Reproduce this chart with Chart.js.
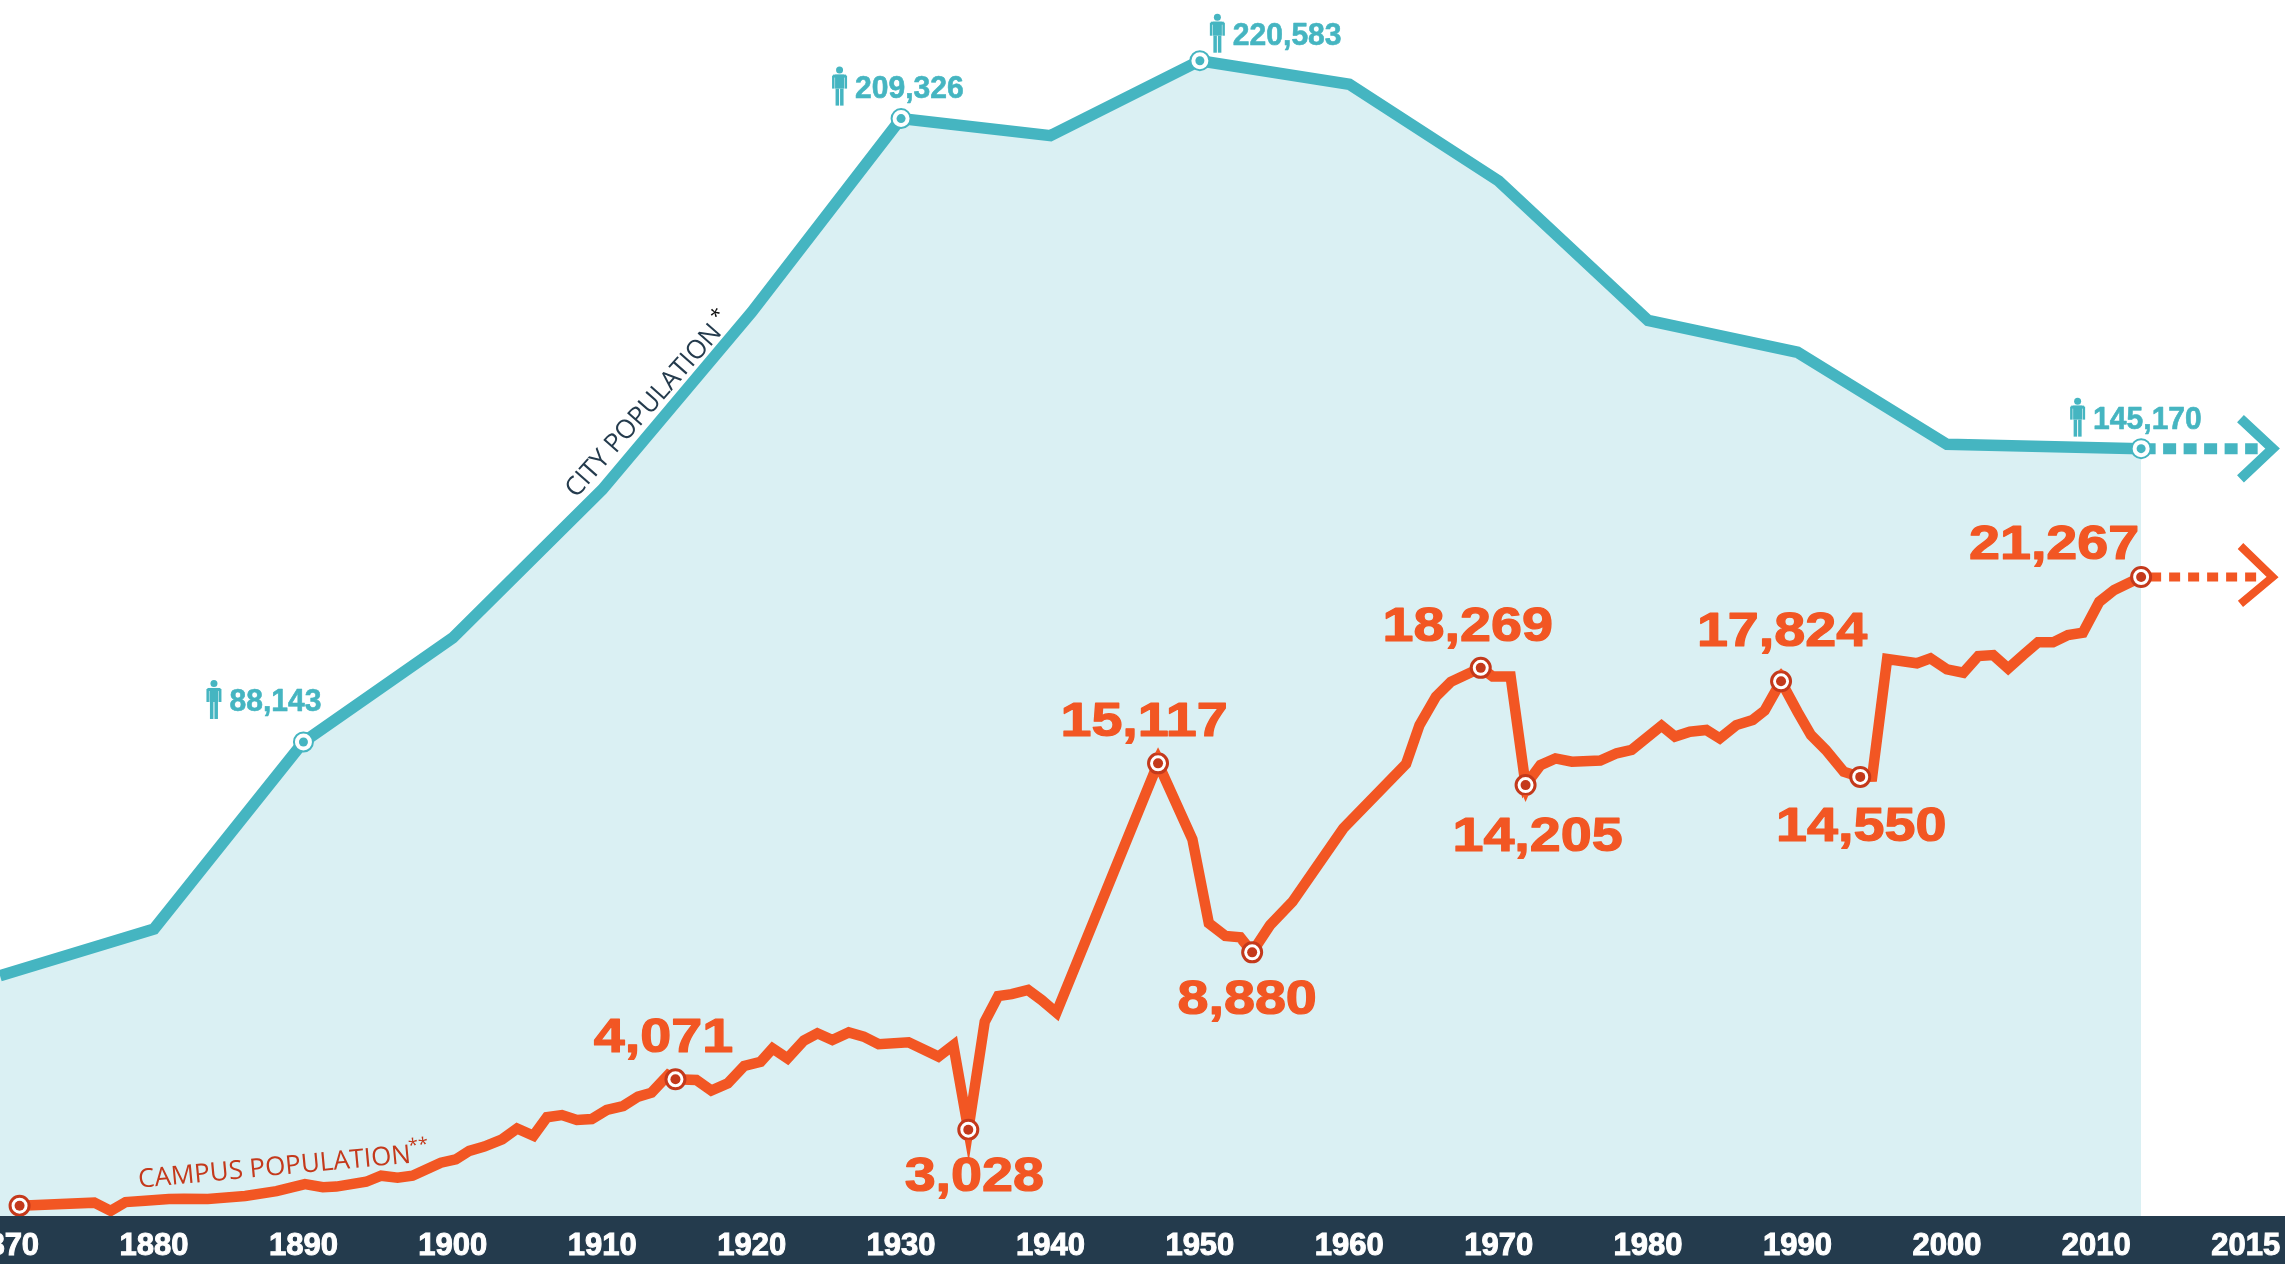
<!DOCTYPE html>
<html>
<head>
<meta charset="utf-8">
<title>City and campus population</title>
<style>
    html, body { margin: 0; padding: 0; background: #fff; overflow: hidden; }
    canvas { display: block; }
</style>
<script src="https://cdn.jsdelivr.net/npm/chart.js@4/dist/chart.umd.min.js"></script>
</head>
<body>
<canvas id="chartPop" width="2285" height="1264"></canvas>
<script>
'use strict';

// axis: the last slot sits one full decade after 2010 but is printed 2015
const tickSlots = [1870, 1880, 1890, 1900, 1910, 1920, 1930, 1940, 1950, 1960, 1970, 1980, 1990, 2000, 2010, 2020];
const tickLabels = ['1870', '1880', '1890', '1900', '1910', '1920', '1930', '1940', '1950', '1960', '1970', '1980', '1990', '2000', '2010', '2015'];

const cityYears = [1869.69, 1880, 1890, 1900, 1910, 1920, 1930, 1940, 1950, 1960, 1970, 1980, 1990, 2000, 2013];
const cityValues = [42700, 51800, 88143, 108400, 137200, 171700, 209326, 206000, 220583, 216000, 197200, 170100, 163900, 146000, 145170];

const cityMarkYears = [1890, 1930, 1950, 2013];
const cityMarkValues = [88143, 209326, 220583, 145170];
const cityMarkLabels = ['88,143', '209,326', '220,583', '145,170'];

const campusYears = [
    1871, 1876, 1877.1, 1878.1, 1879.4, 1881, 1882, 1883.6, 1886.1, 1888.2,
    1890.1, 1891.3, 1892.2, 1894.2, 1895.2, 1896.3, 1897.3, 1899.2, 1900.2, 1901.1,
    1902.1, 1903.3, 1904.3, 1905.4, 1906.3, 1907.3, 1908.3, 1909.3, 1910.3, 1911.4,
    1912.4, 1913.3, 1914.4, 1914.9, 1916.3, 1917.3, 1918.4, 1919.5, 1920.6, 1921.4,
    1922.4, 1923.5, 1924.4, 1925.4, 1926.5, 1927.5, 1928.5, 1930.5, 1932.5, 1933.5,
    1934.5, 1935.6, 1936.5, 1937.4, 1938.5, 1939.4, 1940.4, 1947.2, 1949.5, 1950.6,
    1951.7, 1952.7, 1953.5, 1954.7, 1956.2, 1959.6, 1963.8, 1964.7, 1965.8, 1966.8,
    1968.8, 1969.6, 1970.8, 1971.8, 1972.8, 1973.8, 1974.9, 1976.8, 1977.9, 1978.9,
    1980.9, 1981.8, 1982.8, 1983.9, 1984.8, 1985.9, 1987, 1987.8, 1988.9, 1990,
    1990.9, 1991.9, 1993.1, 1994.2, 1995, 1996, 1998, 1998.9, 2000, 2001.1,
    2002.1, 2003.1, 2004.1, 2005.1, 2006.1, 2007.1, 2008.1, 2009.1, 2010.2, 2011.2,
    2013
];
const campusValues = [
    520, 620, 350, 640, 680, 740, 750, 740, 840, 1000,
    1230, 1130, 1150, 1310, 1510, 1440, 1510, 1940, 2050, 2330,
    2470, 2710, 3070, 2830, 3440, 3510, 3350, 3380, 3680, 3810,
    4120, 4250, 4830, 4690, 4670, 4320, 4560, 5130, 5270, 5710,
    5380, 5970, 6210, 5990, 6240, 6100, 5850, 5910, 5440, 5820,
    3028, 6590, 7440, 7500, 7640, 7310, 6890, 15117, 12610, 9840,
    9420, 9380, 8880, 9780, 10550, 12970, 15100, 16380, 17320, 17810,
    18269, 17980, 17980, 14400, 15060, 15280, 15170, 15210, 15450, 15560,
    16360, 16000, 16160, 16220, 15940, 16380, 16550, 16860, 17824, 16820,
    16050, 15560, 14840, 14670, 14680, 18560, 18420, 18580, 18220, 18110,
    18660, 18690, 18250, 18690, 19110, 19110, 19350, 19430, 20450, 20840,
    21267
];

const campusMarkYears = [1871, 1914.9, 1934.5, 1947.2, 1953.5, 1968.8, 1971.8, 1988.9, 1994.2, 2013];
const campusMarkValues = [520, 4690, 3028, 15117, 8880, 18269, 14400, 17824, 14670, 21267];
const campusMarkLabels = ['', '4,071', '3,028', '15,117', '8,880', '18,269', '14,205', '17,824', '14,550', '21,267'];

const cityDashYears = [2013, 2020.8];
const cityDashValues = [145170, 145170];
const cityArrowYears = [2019.65, 2021.8, 2019.65];
const cityArrowValues = [151000, 145170, 139300];

const campusDashYears = [2013, 2020.8];
const campusDashValues = [21267, 21267];
const campusArrowYears = [2019.65, 2021.8, 2019.65];
const campusArrowValues = [22290, 21267, 20380];

const CITY_COLOR = '#45b5c1';
const CITY_FILL = '#daf0f3';
const CAMPUS_COLOR = '#f25623';
const CAMPUS_DARK = '#c4391b';
const BAND_COLOR = '#243b4d';

// text offsets from each marker, same order as the mark arrays
const cityLabelOffsets = [[-74, -31], [-46, -21], [33, -16], [-48, -20]];
const campusLabelOffsets = [null, [-12, -27], [6, 61], [-14, -27], [-5, 62], [-13, -27], [12, 66], [1, -35], [1, 64], [-87, -18]];
const campusTails = [0, 0, 22, -16, 0, 0, 17, -13, 0, 0];

function zipPoints(xs, ys) {
    return xs.map((x, i) => ({ x: x, y: ys[i] }));
}

// the original type is heavier and has other proportions than anything installed
function rysujTekst(ctx, txt, px, py, scaleX, stroke) {
    ctx.save();
    ctx.translate(px, py);
    ctx.scale(scaleX, 1);
    ctx.lineWidth = stroke;
    ctx.strokeStyle = ctx.fillStyle;
    ctx.lineJoin = 'round';
    ctx.strokeText(txt, 0, 0);
    ctx.fillText(txt, 0, 0);
    ctx.restore();
}

function rysujLudzika(ctx, left, top) {
    const cx = left + 7.5;
    ctx.beginPath();
    ctx.arc(cx, top + 3.5, 3.5, 0, Math.PI * 2);
    ctx.fill();
    ctx.fillRect(left + 3, top + 8, 9, 14);
    ctx.fillRect(left, top + 9, 2.5, 13);
    ctx.fillRect(left + 12.5, top + 9, 2.5, 13);
    ctx.fillRect(left + 1, top + 8, 13, 3);
    ctx.fillRect(left + 3.5, top + 22, 3.5, 17);
    ctx.fillRect(left + 8, top + 22, 3.5, 17);
}

const labelsPlugin = {
    id: 'popLabels',
    afterDatasetsDraw(chart) {
        const ctx = chart.ctx;
        const x = chart.scales.x;
        const yCity = chart.scales.y;
        const yCampus = chart.scales.yCampus;

        ctx.save();
        ctx.textBaseline = 'alphabetic';

        // city values with the person icon
        ctx.fillStyle = CITY_COLOR;
        ctx.textAlign = 'left';
        ctx.font = 'bold 31px "Liberation Sans", sans-serif';
        cityMarkLabels.forEach((txt, i) => {
            const px = x.getPixelForValue(cityMarkYears[i]) + cityLabelOffsets[i][0];
            const py = yCity.getPixelForValue(cityMarkValues[i]) + cityLabelOffsets[i][1];
            rysujTekst(ctx, txt, px, py, 0.97, 0.6);
            rysujLudzika(ctx, px - 23, py - 31);
        });

        // campus values
        ctx.fillStyle = CAMPUS_COLOR;
        ctx.textAlign = 'center';
        ctx.font = 'bold 48px "Liberation Sans", sans-serif';
        campusMarkLabels.forEach((txt, i) => {
            const mx = x.getPixelForValue(campusMarkYears[i]);
            const my = yCampus.getPixelForValue(campusMarkValues[i]);
            if (txt) rysujTekst(ctx, txt, mx + campusLabelOffsets[i][0], my + campusLabelOffsets[i][1], 1.16, 1.2);
            const tail = campusTails[i];
            if (tail) {
                const dir = Math.sign(tail);
                ctx.beginPath();
                ctx.moveTo(mx - 3, my + dir * 10);
                ctx.lineTo(mx + 3, my + dir * 10);
                ctx.lineTo(mx, my + tail);
                ctx.fill();
            }
        });

        // series names along the lines
        ctx.textAlign = 'left';
        ctx.save();
        ctx.translate(x.getPixelForValue(1910) - 26, yCity.getPixelForValue(137200) + 9);
        ctx.rotate(-48.5 * Math.PI / 180);
        ctx.fillStyle = BAND_COLOR;
        ctx.font = '26px "Open Sans", sans-serif';
        ctx.fillText('CITY POPULATION', 0, 0);
        ctx.fillStyle = '#111';
        ctx.font = '20px "Open Sans", sans-serif';
        ctx.fillText('*', 226, -9);
        ctx.restore();

        ctx.save();
        ctx.translate(x.getPixelForValue(1880) - 15, yCampus.getPixelForValue(680) - 13);
        ctx.rotate(-5.3 * Math.PI / 180);
        ctx.fillStyle = CAMPUS_DARK;
        ctx.font = '26px "Open Sans", sans-serif';
        ctx.fillText('CAMPUS POPULATION', 0, 0);
        ctx.font = '18px "Open Sans", sans-serif';
        ctx.fillText('**', 272, -11);
        ctx.restore();

        ctx.restore();
    }
};

const ctx = document.getElementById('chartPop');

new Chart(ctx, {
    type: 'line',
    plugins: [labelsPlugin],
    data: {
        datasets: [
            // inner dots, then rings, then lines; lower order is painted later
            { data: zipPoints(cityMarkYears, cityMarkValues), yAxisID: 'y', order: 1, showLine: false, pointRadius: 4.5, pointBackgroundColor: CITY_COLOR, pointBorderWidth: 0 },
            { data: zipPoints(campusMarkYears, campusMarkValues), yAxisID: 'yCampus', order: 1, showLine: false, pointRadius: 5, pointBackgroundColor: CAMPUS_DARK, pointBorderWidth: 0 },
            { data: zipPoints(cityMarkYears, cityMarkValues), yAxisID: 'y', order: 2, showLine: false, pointRadius: 9.5, pointBackgroundColor: '#fff', pointBorderColor: CITY_COLOR, pointBorderWidth: 2 },
            { data: zipPoints(campusMarkYears, campusMarkValues), yAxisID: 'yCampus', order: 2, showLine: false, pointRadius: 9.5, pointBackgroundColor: '#fff', pointBorderColor: CAMPUS_DARK, pointBorderWidth: 3 },
            { data: zipPoints(campusYears, campusValues), yAxisID: 'yCampus', order: 3, borderColor: CAMPUS_COLOR, borderWidth: 10.5, pointRadius: 0, borderJoinStyle: 'miter' },
            { data: zipPoints(campusDashYears, campusDashValues), yAxisID: 'yCampus', order: 3, borderColor: CAMPUS_COLOR, borderWidth: 9, borderDash: [11, 8], borderDashOffset: 10, pointRadius: 0 },
            { data: zipPoints(campusArrowYears, campusArrowValues), yAxisID: 'yCampus', order: 3, borderColor: CAMPUS_COLOR, borderWidth: 8, pointRadius: 0, borderJoinStyle: 'miter' },
            { data: zipPoints(cityDashYears, cityDashValues), yAxisID: 'y', order: 4, borderColor: CITY_COLOR, borderWidth: 11, borderDash: [13, 7.5], borderDashOffset: -1.5, pointRadius: 0 },
            { data: zipPoints(cityArrowYears, cityArrowValues), yAxisID: 'y', order: 4, borderColor: CITY_COLOR, borderWidth: 10, pointRadius: 0, borderJoinStyle: 'miter' },
            { data: zipPoints(cityYears, cityValues), yAxisID: 'y', order: 5, borderColor: CITY_COLOR, borderWidth: 11.5, pointRadius: 0, borderJoinStyle: 'miter', fill: 'start', backgroundColor: CITY_FILL }
        ]
    },
    options: {
        responsive: false,
        animation: false,
        layout: { padding: 0, autoPadding: false },
        plugins: { legend: { display: false }, tooltip: { enabled: false } },
        scales: {
            x: {
                type: 'linear',
                min: 1869.69,
                max: 2022.63,
                backgroundColor: BAND_COLOR,
                grid: { display: false, drawTicks: false },
                border: { display: false },
                afterBuildTicks: scale => { scale.ticks = tickSlots.map(v => ({ value: v })); },
                afterFit: scale => {
                    scale.height = 48;
                    scale.paddingLeft = 0;
                    scale.paddingRight = 0;
                },
                ticks: {
                    autoSkip: false,
                    maxRotation: 0,
                    padding: 12,
                    color: '#fff',
                    textStrokeColor: '#fff',
                    textStrokeWidth: 1,
                    font: { family: '"Liberation Sans", sans-serif', size: 31, weight: 'bold' },
                    callback: value => tickLabels[tickSlots.indexOf(value)]
                }
            },
            y: { display: false, min: -4007, max: 232383 },
            yCampus: { display: false, min: 180, max: 40308 }
        }
    }
});
</script>
</body>
</html>
